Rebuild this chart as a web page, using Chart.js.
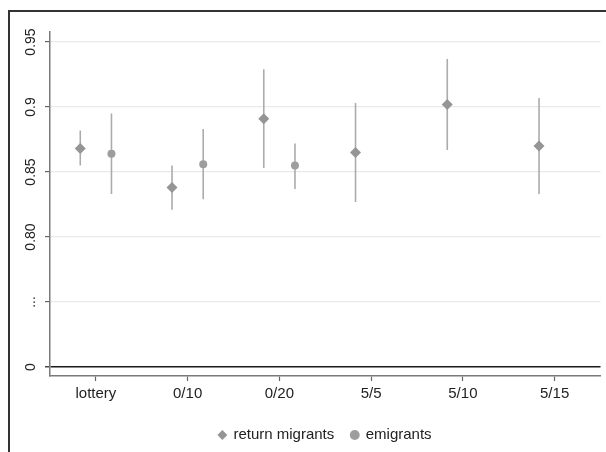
<!DOCTYPE html>
<html>
<head>
<meta charset="utf-8">
<script src="https://cdn.jsdelivr.net/npm/chart.js@4.4.1/dist/chart.umd.min.js"></script>
<style>
    html, body { margin: 0; padding: 0; background: #fff; }
    #wrap { width: 606px; height: 452px; }
</style>
</head>
<body>
<div id="wrap"><canvas id="chart"></canvas></div>
<script>
// categories on the x axis
const categories = ['lottery', '0/10', '0/20', '5/5', '5/10', '5/15'];

// return migrants: point estimate and interval
const returnMean = [0.868, 0.838, 0.891, 0.865, 0.902, 0.870];
const returnLow  = [0.855, 0.821, 0.853, 0.827, 0.867, 0.833];
const returnHigh = [0.882, 0.855, 0.929, 0.903, 0.937, 0.907];

// emigrants: only the first three categories
const emigMean = [0.864, 0.856, 0.855];
const emigLow  = [0.833, 0.829, 0.837];
const emigHigh = [0.895, 0.883, 0.872];

// y axis is broken: the "0" and "..." ticks stand below 0.80
const yTickValues = [0.70, 0.75, 0.80, 0.85, 0.90, 0.95];
const yTickLabels = ['0', '...', '0.80', '0.85', '0.9', '0.95'];

const SHIFT = 0.17; // side offset of the two series around each tick

const pts = (mean, off) => mean.map((v, i) => ({ x: i + 1 + off, y: v }));
const bars = (lo, hi, off) => {
    const out = [];
    lo.forEach((v, i) => {
        out.push({ x: i + 1 + off, y: v });
        out.push({ x: i + 1 + off, y: hi[i] });
        out.push({ x: i + 1 + off, y: null });
    });
    return out;
};

const frame = {
    id: 'frame',
    beforeDraw(chart) {
        const ctx = chart.ctx;
        ctx.save();
        ctx.strokeStyle = '#333';
        ctx.lineWidth = 2;
        ctx.strokeRect(9, 11, 700, 600);
        ctx.restore();
    }
};

new Chart(document.getElementById('chart'), {
    type: 'scatter',
    data: {
        datasets: [
            {
                label: 'return migrants',
                data: pts(returnMean, -SHIFT),
                pointStyle: 'rectRot',
                pointRadius: 5.5,
                backgroundColor: '#959595',
                borderColor: '#959595',
                borderWidth: 0,
                order: 1
            },
            {
                label: 'emigrants',
                data: pts(emigMean, SHIFT),
                pointStyle: 'circle',
                pointRadius: 4,
                backgroundColor: '#9d9d9d',
                borderColor: '#9d9d9d',
                borderWidth: 0,
                order: 1
            },
            {
                label: '',
                type: 'line',
                data: bars(returnLow, returnHigh, -SHIFT),
                borderColor: '#ababab',
                borderWidth: 1.6,
                pointRadius: 0,
                spanGaps: false,
                order: 2
            },
            {
                label: '',
                type: 'line',
                data: bars(emigLow, emigHigh, SHIFT),
                borderColor: '#ababab',
                borderWidth: 1.6,
                pointRadius: 0,
                spanGaps: false,
                order: 2
            }
        ]
    },
    options: {
        responsive: true,
        maintainAspectRatio: false,
        animation: false,
        layout: {
            padding: { left: 0, top: 32, right: 4, bottom: -0.5 }
        },
        plugins: {
            tooltip: { enabled: false },
            legend: {
                position: 'bottom',
                fullSize: false,
                labels: {
                    usePointStyle: true,
                    boxWidth: 7,
                    boxHeight: 7,
                    padding: 17,
                    color: '#222',
                    font: { family: 'Liberation Sans', size: 15 },
                    filter: (item) => item.text !== ''
                }
            }
        },
        scales: {
            x: {
                type: 'linear',
                min: 0.5,
                max: 6.5,
                afterBuildTicks: (scale) => {
                    scale.ticks = categories.map((c, i) => ({ value: i + 1 }));
                },
                afterFit: (scale) => { scale.height = 34.5; },
                ticks: {
                    autoSkip: false,
                    maxRotation: 0,
                    padding: 4,
                    color: '#222',
                    font: { family: 'Liberation Sans', size: 15 },
                    callback: (v, i) => categories[i]
                },
                grid: {
                    drawOnChartArea: false,
                    drawTicks: true,
                    tickLength: 5,
                    tickColor: '#666',
                    tickWidth: 1.2
                },
                border: { color: '#7a7a7a', width: 1.5 }
            },
            y: {
                type: 'linear',
                min: 0.6931,
                max: 0.9577,
                afterBuildTicks: (scale) => {
                    scale.ticks = yTickValues.map(v => ({ value: v }));
                },
                afterFit: (scale) => { scale.width = 50; },
                ticks: {
                    autoSkip: false,
                    minRotation: 90,
                    maxRotation: 90,
                    crossAlign: 'center',
                    padding: 0,
                    color: '#222',
                    font: { family: 'Liberation Sans', size: 14 },
                    callback: (v, i) => yTickLabels[i]
                },
                grid: {
                    color: (c) => (c.tick && c.tick.value === 0.70) ? '#1a1a1a' : '#e9e9e9',
                    lineWidth: (c) => (c.tick && c.tick.value === 0.70) ? 1.6 : 1.2,
                    tickColor: (c) => (c.tick && c.tick.value === 0.70) ? '#1a1a1a' : '#666',
                    tickLength: 5,
                    tickWidth: 1.2
                },
                border: { color: '#7a7a7a', width: 1.5 }
            }
        }
    },
    plugins: [frame]
});
</script>
</body>
</html>
